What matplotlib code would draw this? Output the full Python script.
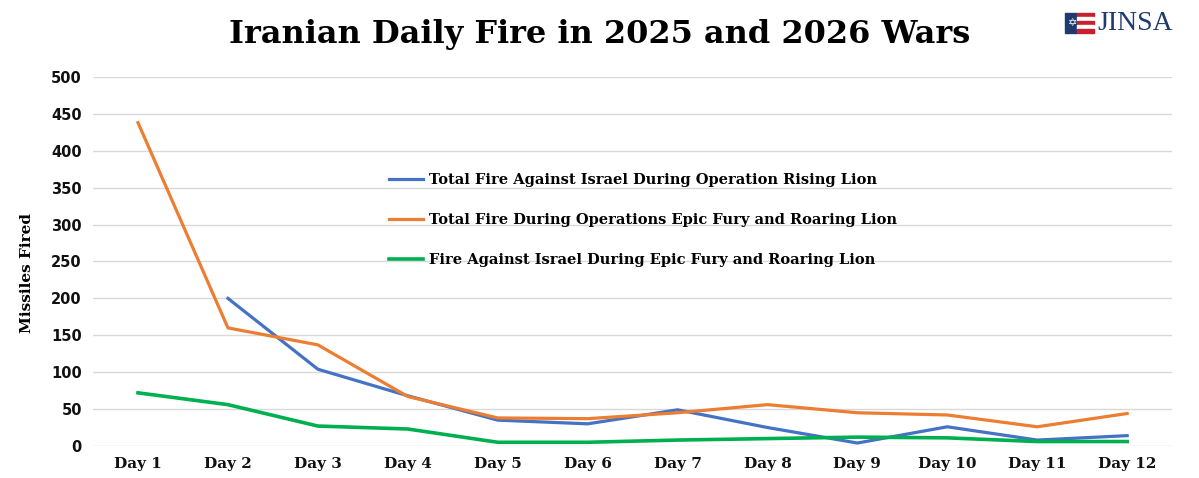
import matplotlib
matplotlib.use("Agg")
from matplotlib import pyplot as plt
from matplotlib.patches import Rectangle
import numpy as np

days = ['Day 1', 'Day 2', 'Day 3', 'Day 4', 'Day 5', 'Day 6',
        'Day 7', 'Day 8', 'Day 9', 'Day 10', 'Day 11', 'Day 12']
# Rising Lion has no Day 1 value
rising_lion = [np.nan, 200, 104, 68, 35, 30, 49, 25, 4, 26, 8, 14]
epic_total = [438, 160, 137, 67, 38, 37, 45, 56, 45, 42, 26, 44]
epic_israel = [72, 56, 27, 23, 5, 5, 8, 10, 12, 11, 6, 6]
yticks = [0, 50, 100, 150, 200, 250, 300, 350, 400, 450, 500]

serif = 'DejaVu Serif'

fig = plt.figure(figsize=(11.99, 4.78), dpi=100)
ax = fig.add_axes([0.0776, 0.067, 0.9, 0.772])

x = np.arange(len(days))
ax.plot(x, rising_lion, color='#4472C4', lw=2.3,
        label='Total Fire Against Israel During Operation Rising Lion')
ax.plot(x, epic_total, color='#ED7D31', lw=2.3,
        label='Total Fire During Operations Epic Fury and Roaring Lion')
ax.plot(x, epic_israel, color='#00B050', lw=2.6,
        label='Fire Against Israel During Epic Fury and Roaring Lion')

ax.set_xlim(-0.5, 11.5)
ax.set_ylim(0, 500)
ax.set_yticks(yticks)
ax.set_xticks(x)
ax.set_xticklabels(days, family=serif, fontweight='bold', fontsize=11)
for t in ax.get_yticklabels():
    t.set_family('DejaVu Sans')
    t.set_fontweight('bold')
    t.set_fontsize(10.5)
ax.tick_params(axis='both', length=0, colors='#111111')
ax.tick_params(axis='y', pad=8)
ax.tick_params(axis='x', pad=8)
ax.grid(axis='y', color='#d9d9d9', lw=1)
ax.set_axisbelow(True)
for s in ax.spines.values():
    s.set_visible(False)

ax.set_ylabel('Missiles Fired', family=serif, fontweight='bold',
              fontsize=11)
ax.yaxis.set_label_coords(-0.055, 0.47)

leg = ax.legend(loc='upper left', bbox_to_anchor=(0.2745, 0.74),
                frameon=False, handlelength=2.3, handletextpad=0.4,
                labelspacing=1.8, borderpad=0, borderaxespad=0,
                prop={'family': serif, 'weight': 'bold', 'size': 10.5})

fig.text(0.5, 0.928, 'Iranian Daily Fire in 2025 and 2026 Wars',
         ha='center', va='center', family=serif, fontweight='bold',
         fontsize=23)

# JINSA logo (approximate)
fw, fh = 1199.0, 478.0
fig.patches.append(Rectangle((1065 / fw, 1 - 33 / fh), 12 / fw, 20 / fh,
                             transform=fig.transFigure, color='#1f3a6e'))
for i, c in enumerate(['#c8202f', 'white', '#c8202f', 'white', '#c8202f']):
    fig.patches.append(Rectangle((1077 / fw, 1 - (17 + i * 4) / fh),
                                 17 / fw, 4 / fh,
                                 transform=fig.transFigure, color=c))
fig.text(1073 / fw, 1 - 23 / fh, '\u2721', color='white', fontsize=8,
         ha='center', va='center', family='DejaVu Sans')
fig.text(1097 / fw, 1 - 24 / fh, 'JINSA', color='#1f3a6e', fontsize=20,
         ha='left', va='center', family='Liberation Serif')

fig.savefig('out.png', dpi=100)
